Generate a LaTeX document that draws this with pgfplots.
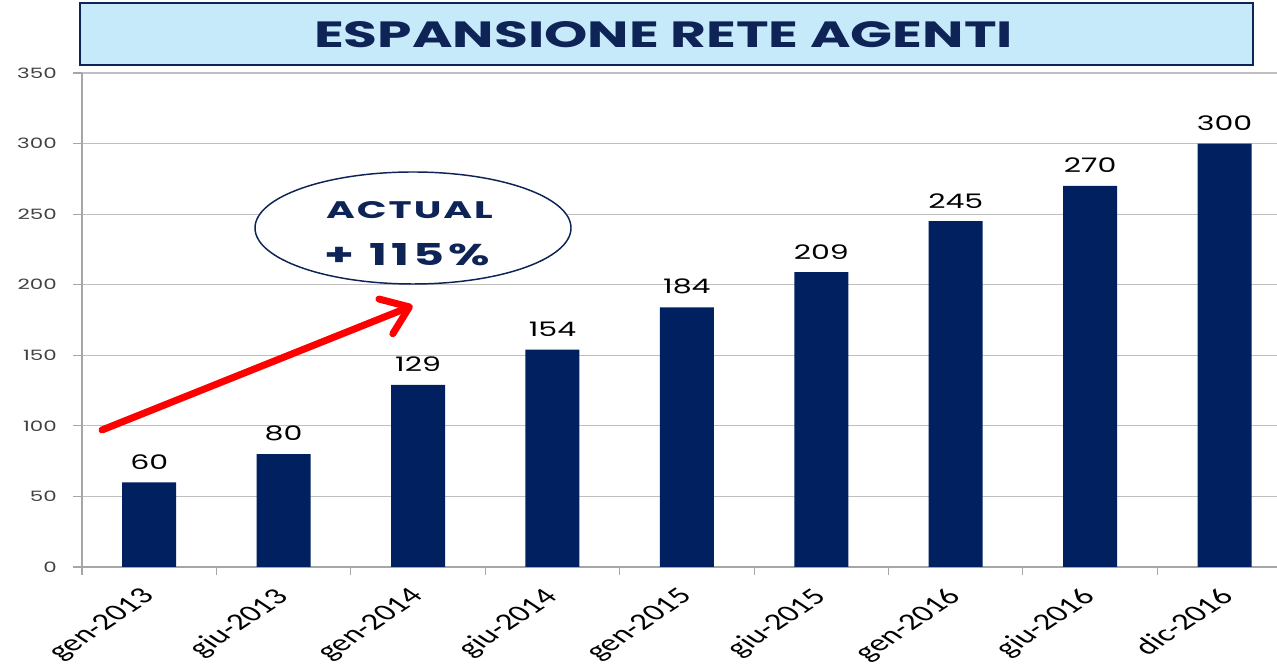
\documentclass[border=0pt]{standalone}
\usepackage{pgfplots}
\pgfplotsset{compat=1.18}
\usepackage{pgfplotstable}
\usepackage{fontspec}
\usepackage{graphicx}
\usetikzlibrary{arrows.meta}
\setmainfont{Carlito}
\newfontfamily\pop{Poppins}
\newfontfamily\popa{Poppins}[LetterSpace=5]
\newfontfamily\popb{Poppins}[LetterSpace=9]
\definecolor{navy}{HTML}{002060}
\definecolor{titlenavy}{HTML}{0E2356}
\definecolor{boxblue}{HTML}{C7EAFB}
\definecolor{gridgray}{HTML}{BFBFBF}
\definecolor{axgray}{HTML}{A6A6A6}
\definecolor{ticktext}{HTML}{404040}
\newcommand\yl[1]{\scalebox{1.5}[1]{\fontsize{10.7}{12}\pop #1}}
\newcommand\lbl[1]{\scalebox{1.5}[1]{\fontsize{15}{17}\pop #1}}
\newcommand\xl[1]{\scalebox{1.5}[1]{\rotatebox{45}{\fontsize{17.5}{20}\selectfont #1}}}
\pgfplotstableread{
x y
0 60
1 80
2 129
3 154
4 184
5 209
6 245
7 270
8 300
}\data
\begin{document}
\begin{tikzpicture}
\useasboundingbox (-61.5pt,-77.25pt) rectangle (896.25pt,425.25pt);
\begin{axis}[
  at={(0,0)}, anchor=south west,
  scale only axis, width=896.25pt, height=370.5pt,
  xmin=-0.5, xmax=8.39, ymin=0, ymax=350,
  axis x line*=bottom, axis y line*=left,
  x axis line style={axgray, line width=0.8pt},
  y axis line style={axgray, line width=1.5pt},
  ytick={0,50,...,350},
  yticklabels={\yl{0},\yl{50},\yl{100},\yl{150},\yl{200},\yl{250},\yl{300},\yl{350}},
  ymajorgrids, major grid style={gridgray, line width=0.9pt},
  xtick={0,...,8},
  xticklabels={\xl{gen-2013},\xl{giu-2013},\xl{gen-2014},\xl{giu-2014},\xl{gen-2015},\xl{giu-2015},\xl{gen-2016},\xl{giu-2016},\xl{dic-2016}},
  major x tick style={draw=none},
  minor xtick={-0.5,0.5,...,7.5},
  minor x tick style={axgray, line width=0.8pt},
  minor tick length=6pt,
  major tick length=6.75pt,
  major y tick style={axgray, line width=0.8pt},
  tick align=outside,
  xticklabel style={anchor=north east, inner sep=0pt, xshift=8pt, yshift=-8pt},
  yticklabel style={anchor=east, inner sep=0pt, xshift=-12pt, text=ticktext},
  ybar, bar width=40.5pt,
  nodes near coords={\lbl{\pgfmathprintnumber[assume math mode=true]{\pgfplotspointmeta}}},
  every node near coord/.append style={anchor=south, inner sep=0pt, yshift=9.5pt, text=black},
]
\addplot[fill=navy, draw=none] table[x=x, y=y] {\data};
\end{axis}
\draw[draw=titlenavy, line width=1.5pt, fill=boxblue] (-1.5pt,376.5pt) rectangle (878.25pt,423pt);
\node[titlenavy, inner sep=0pt] at (436.1pt,399pt) {\resizebox{524pt}{19.5pt}{\pop\bfseries ESPANSIONE RETE AGENTI}};
\draw[titlenavy, line width=1.1pt, fill=white] (248.25pt,254.25pt) ellipse [x radius=118.5pt, y radius=42pt];
\node[titlenavy, inner sep=0pt] at (245.6pt,267.4pt) {\resizebox{125pt}{12.75pt}{\popa\bfseries ACTUAL}};
\node[titlenavy, inner sep=0pt] at (244.1pt,234pt) {\resizebox{124pt}{16.5pt}{\popb\bfseries +\hspace{0.3em}115\%}};
\draw[red, line width=5.25pt, line cap=round, -{Straight Barb[length=19pt,width=28pt,round]}] (15pt,102.75pt) -- (248pt,196pt);
\end{tikzpicture}
\end{document}
